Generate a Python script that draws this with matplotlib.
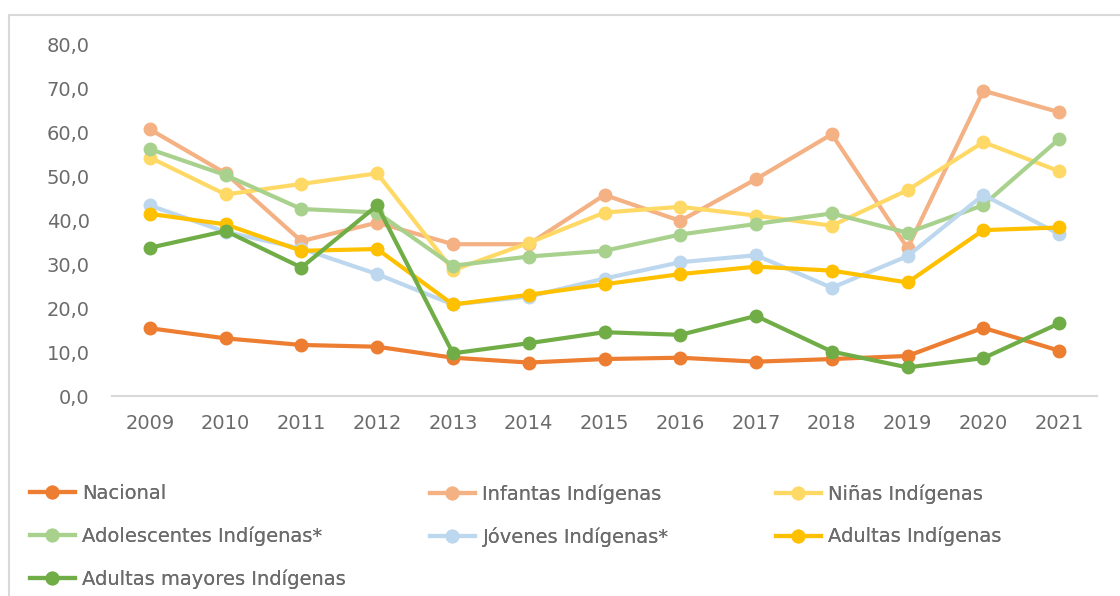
import matplotlib.pyplot as plt
from matplotlib.patches import Rectangle

years = [2009, 2010, 2011, 2012, 2013, 2014, 2015, 2016, 2017, 2018, 2019, 2020, 2021]

nacional = [15.4, 13.1, 11.6, 11.2, 8.7, 7.6, 8.4, 8.7, 7.8, 8.4, 9.1, 15.5, 10.3]
infantas = [60.6, 50.6, 35.2, 39.4, 34.5, 34.5, 45.7, 39.8, 49.3, 59.5, 33.6, 69.4, 64.5]
ninas = [54.2, 45.8, 48.2, 50.6, 28.6, 34.8, 41.7, 43.0, 41.0, 38.7, 46.8, 57.7, 51.1]
adolescentes = [56.1, 50.2, 42.5, 41.7, 29.6, 31.7, 33.0, 36.7, 39.1, 41.5, 37.1, 43.4, 58.4]
jovenes = [43.3, 37.3, 33.5, 27.7, 20.8, 22.6, 26.7, 30.4, 32.0, 24.6, 31.8, 45.7, 36.8]
adultas = [41.4, 39.0, 33.0, 33.4, 20.8, 23.0, 25.4, 27.7, 29.4, 28.5, 25.8, 37.7, 38.3]
mayores = [33.7, 37.5, 29.2, 43.3, 9.7, 12.0, 14.5, 13.9, 18.2, 10.1, 6.5, 8.6, 16.5]

series = [
    ("Nacional", nacional, "#ED7D31"),
    ("Infantas Indígenas", infantas, "#F4B183"),
    ("Niñas Indígenas", ninas, "#FFD966"),
    ("Adolescentes Indígenas*", adolescentes, "#A9D18E"),
    ("Jóvenes Indígenas*", jovenes, "#BDD7EE"),
    ("Adultas Indígenas", adultas, "#FFC000"),
    ("Adultas mayores Indígenas", mayores, "#70AD47"),
]

text_color = "#6b6b6b"
font_size = 14
plt.rcParams["font.family"] = ["DejaVu Sans"]

fig = plt.figure(figsize=(11.2, 5.96), dpi=100)
# marco gris alrededor del gráfico
fig.patches.append(Rectangle((9 / 1120, -0.05), 1.2, 0.05 + 581 / 596,
                             transform=fig.transFigure, fill=False,
                             edgecolor="#d9d9d9", linewidth=1.5))

ax = fig.add_axes([112 / 1120, 200 / 596, 985 / 1120, 352 / 596])

lines = {}
for name, vals, color in series:
    (ln,) = ax.plot(range(len(years)), vals, color=color, linewidth=3.0,
                    marker="o", markersize=9, label=name)
    lines[name] = ln

ax.set_xlim(-0.5, len(years) - 0.5)
ax.set_ylim(0, 80)
ax.set_yticks(range(0, 81, 10))
ax.set_yticklabels([f"{v},0" for v in range(0, 81, 10)])
ax.set_xticks(range(len(years)))
ax.set_xticklabels([str(y) for y in years])

for side in ["top", "right", "left"]:
    ax.spines[side].set_visible(False)
ax.spines["bottom"].set_color("#d9d9d9")
ax.spines["bottom"].set_linewidth(1.5)
ax.tick_params(axis="both", length=0, labelsize=font_size, colors=text_color)
ax.tick_params(axis="x", pad=13)
ax.tick_params(axis="y", pad=16)

# leyenda en tres columnas
columns = [
    (["Nacional", "Adolescentes Indígenas*", "Adultas mayores Indígenas"], 30),
    (["Infantas Indígenas", "Jóvenes Indígenas*"], 430),
    (["Niñas Indígenas", "Adultas Indígenas"], 776),
]
for names, xpix in columns:
    leg = fig.legend([lines[n] for n in names], names, loc="upper left",
                     bbox_to_anchor=(xpix / 1120, 1 - 484 / 596),
                     frameon=False, fontsize=font_size, borderpad=0,
                     borderaxespad=0, handlelength=2.3, handletextpad=0.4,
                     labelspacing=1.2, labelcolor=text_color)
    fig.add_artist(leg)

fig.savefig("out.png", dpi=100)
